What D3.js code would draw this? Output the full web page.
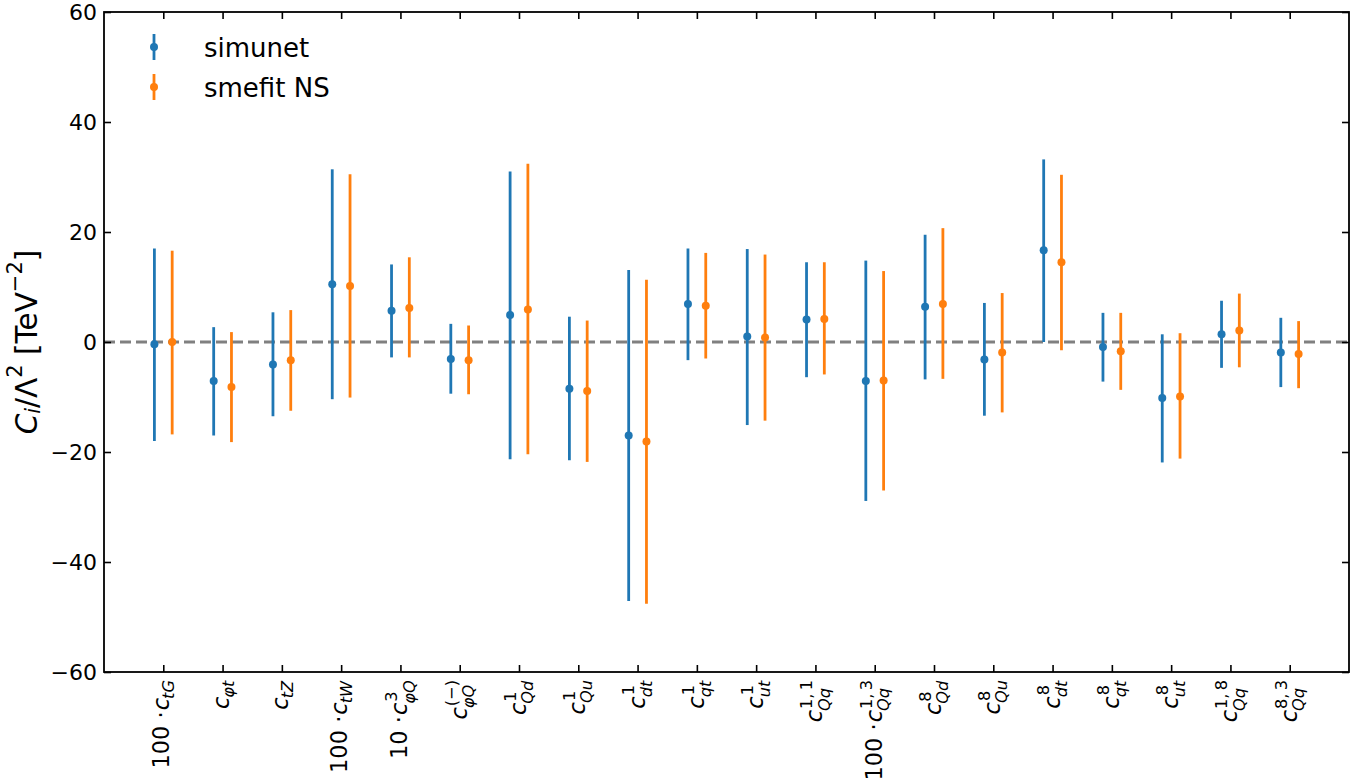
<!DOCTYPE html>
<html>
<head>
<meta charset="utf-8">
<script src="https://cdn.jsdelivr.net/npm/d3@7"></script>
<style>
  html, body { margin: 0; padding: 0; background: #fff; }
  svg { display: block; }
  text { font-family: "DejaVu Sans", sans-serif; fill: #000; }
</style>
</head>
<body>
<svg id="chart" width="1365" height="782"></svg>
<script>
// Wilson coefficients (one entry per category)
const labelPrefix = ["100 ·", "", "", "100 ·", "10 ·", "", "", "", "", "", "", "", "100 ·", "", "", "", "", "", "", ""];
const labelSup    = ["", "", "", "", "3", "(−)", "1", "1", "1", "1", "1", "1,\u20091", "1,\u20093", "8", "8", "8", "8", "8", "1,\u20098", "8,\u20093"];
const labelSub    = ["tG", "φt", "tZ", "tW", "φQ", "φQ", "Qd", "Qu", "dt", "qt", "ut", "Qq", "Qq", "Qd", "Qu", "dt", "qt", "ut", "Qq", "Qq"];

// simunet: central value and interval bounds
const simunetCentral = [-0.4, -7.1, -4.1, 10.5, 5.7, -3.1, 4.9, -8.5, -17.0, 6.9, 1.0, 4.1, -7.1, 6.4, -3.2, 16.7, -0.9, -10.2, 1.4, -1.9];
const simunetLow     = [-18.0, -17.0, -13.5, -10.4, -2.8, -9.4, -21.3, -21.5, -47.1, -3.3, -15.1, -6.4, -28.9, -6.8, -13.4, 0.0, -7.2, -21.9, -4.7, -8.2];
const simunetHigh    = [17.0, 2.7, 5.4, 31.4, 14.1, 3.3, 31.0, 4.6, 13.1, 17.0, 16.9, 14.5, 14.8, 19.5, 7.1, 33.2, 5.3, 1.4, 7.5, 4.4];

// smefit NS: central value and interval bounds
const smefitCentral = [0.0, -8.2, -3.3, 10.2, 6.2, -3.3, 5.9, -8.9, -18.1, 6.6, 0.8, 4.2, -7.0, 6.9, -1.9, 14.5, -1.7, -9.9, 2.1, -2.2];
const smefitLow     = [-16.8, -18.2, -12.5, -10.1, -2.8, -9.5, -20.4, -21.8, -47.6, -3.0, -14.3, -5.9, -27.0, -6.7, -12.8, -1.5, -8.7, -21.2, -4.6, -8.4];
const smefitHigh    = [16.6, 1.8, 5.8, 30.5, 15.4, 3.0, 32.4, 3.9, 11.3, 16.2, 15.9, 14.5, 12.9, 20.7, 8.9, 30.4, 5.3, 1.6, 8.8, 3.8];

const yTicks = [-60, -40, -20, 0, 20, 40, 60];
const seriesNames = ["simunet", "smefit NS"];
const seriesColors = ["#1f77b4", "#ff7f0e"];

const svg = d3.select("#chart");
const L = 104, R = 1349, T = 12, B = 672;
const n = labelSub.length;

const x = d3.scaleLinear().domain([-1, n]).range([L, R]);
const y = d3.scaleLinear().domain([-60, 60]).range([B, T]);

// zero reference line
svg.append("line")
  .attr("x1", L).attr("x2", R)
  .attr("y1", y(0)).attr("y2", y(0))
  .attr("stroke", "#808080").attr("stroke-width", 2.8)
  .attr("stroke-dasharray", "11,5");

// error bars for both fits
const series = [
  { c: simunetCentral, lo: simunetLow, hi: simunetHigh, off: -0.15 },
  { c: smefitCentral, lo: smefitLow, hi: smefitHigh, off: 0.15 }
];
series.forEach((s, k) => {
  const g = svg.append("g");
  const idx = d3.range(n);
  g.selectAll("line").data(idx).join("line")
    .attr("x1", i => x(i + s.off)).attr("x2", i => x(i + s.off))
    .attr("y1", i => y(s.lo[i])).attr("y2", i => y(s.hi[i]))
    .attr("stroke", seriesColors[k]).attr("stroke-width", 2.8);
  g.selectAll("circle").data(idx).join("circle")
    .attr("cx", i => x(i + s.off)).attr("cy", i => y(s.c[i]))
    .attr("r", 4).attr("fill", seriesColors[k]);
});

// axes: inward ticks on all four sides
const tickLen = 7;
const fmt = d => (d < 0 ? "\u2212" + Math.abs(d) : String(d));
const yLeft = svg.append("g").attr("transform", `translate(${L},0)`)
  .call(d3.axisLeft(y).tickValues(yTicks).tickFormat(fmt).tickSizeInner(-tickLen).tickSizeOuter(0).tickPadding(7));
yLeft.selectAll("text").style("font-size", "22px").attr("font-family", "DejaVu Sans");
svg.append("g").attr("transform", `translate(${R},0)`)
  .call(d3.axisRight(y).tickValues(yTicks).tickFormat("").tickSizeInner(-tickLen).tickSizeOuter(0));
svg.append("g").attr("transform", `translate(0,${B})`)
  .call(d3.axisBottom(x).tickValues(d3.range(n)).tickFormat("").tickSizeInner(-tickLen).tickSizeOuter(0));
svg.append("g").attr("transform", `translate(0,${T})`)
  .call(d3.axisTop(x).tickValues(d3.range(n)).tickFormat("").tickSizeInner(-tickLen).tickSizeOuter(0));
svg.selectAll(".domain").remove();
svg.selectAll(".tick line").attr("stroke", "#000").attr("stroke-width", 1.6);

svg.append("rect")
  .attr("x", L).attr("y", T).attr("width", R - L).attr("height", B - T)
  .attr("fill", "none").attr("stroke", "#000").attr("stroke-width", 1.8);

// rotated category labels with stacked super/subscripts
const fs = 22.5, small = 0.72 * fs;
for (let i = 0; i < n; i++) {
  const outer = svg.append("g").attr("transform", `translate(${x(i)},680) rotate(-90)`);
  const inner = outer.append("g");
  let cx = 0;
  if (labelPrefix[i]) {
    const t = inner.append("text").attr("x", cx).attr("y", 0).style("font-size", fs + "px").text(labelPrefix[i]);
    cx += t.node().getComputedTextLength() + 1;
  }
  const c = inner.append("text").attr("x", cx).attr("y", 0).style("font-size", fs + "px").style("font-style", "italic").text("c");
  cx += c.node().getComputedTextLength();
  if (labelSup[i]) {
    inner.append("text").attr("x", cx + 1).attr("y", -0.45 * fs).style("font-size", small + "px").text(labelSup[i]);
  }
  inner.append("text").attr("x", cx - 1).attr("y", (labelSup[i] ? 0.32 : 0.22) * fs)
    .style("font-size", small + "px").style("font-style", "italic").text(labelSub[i]);
  const bb = inner.node().getBBox();
  inner.attr("transform", `translate(${-(bb.x + bb.width)},${-(bb.y + bb.height / 2)})`);
}

// y-axis title
const yt = svg.append("text")
  .attr("transform", `translate(27,${y(0)}) rotate(-90)`)
  .attr("text-anchor", "middle").attr("dominant-baseline", "central")
  .style("font-size", "29.5px");
yt.append("tspan").style("font-style", "italic").text("C");
yt.append("tspan").style("font-style", "italic").style("font-size", "21px").attr("dy", 6).text("i");
yt.append("tspan").attr("dy", -6).text("/Λ");
yt.append("tspan").style("font-size", "21px").attr("dy", -12).text("2");
yt.append("tspan").attr("dy", 12).text(" [TeV");
yt.append("tspan").style("font-size", "21px").attr("dy", -12).text("−2");
yt.append("tspan").attr("dy", 12).text("]");

// legend
const legend = svg.append("g");
seriesNames.forEach((name, k) => {
  const cy = 47 + 40 * k;
  legend.append("line").attr("x1", 154).attr("x2", 154).attr("y1", cy - 13).attr("y2", cy + 13)
    .attr("stroke", seriesColors[k]).attr("stroke-width", 2.8);
  legend.append("circle").attr("cx", 154).attr("cy", cy).attr("r", 4).attr("fill", seriesColors[k]);
  legend.append("text").attr("x", 204).attr("y", cy + 10).style("font-size", "26px").text(name);
});
</script>
</body>
</html>
